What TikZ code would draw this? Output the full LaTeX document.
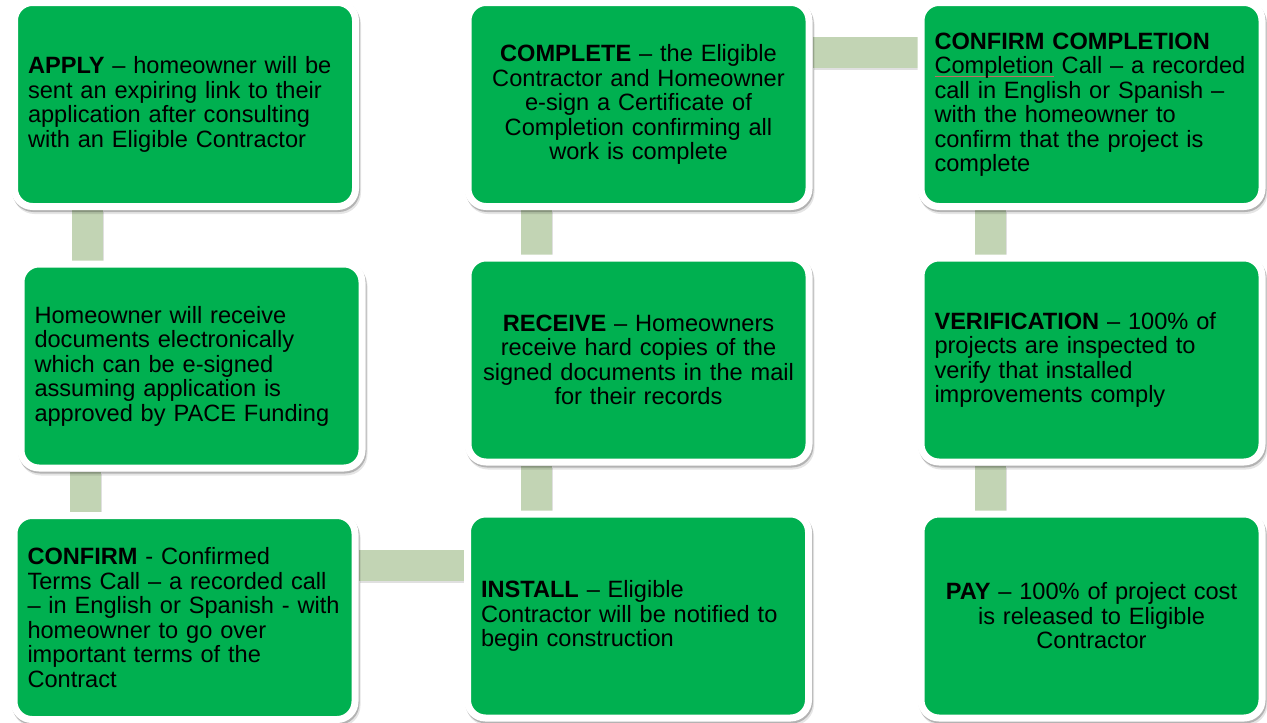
\documentclass[tikz,border=0pt]{standalone}
\usepackage{fontspec}
\setmainfont{Liberation Sans}
\usetikzlibrary{shadows,backgrounds}
\definecolor{boxgreen}{RGB}{0,176,80}
\definecolor{conncol}{RGB}{194,212,180}
\definecolor{ulred}{RGB}{190,110,100}
\newcommand\spellul[1]{\leavevmode{\setbox0\hbox{#1}\rlap{\color{ulred}\rule[-2.5pt]{\wd0}{0.45pt}}\box0}}
\newcommand\cl[1]{\mbox{#1}}
\tikzset{
  stepcard/.style={rounded corners=18pt, fill=boxgreen, draw=white, line width=7pt,
    minimum width=341pt, minimum height=204pt, inner xsep=13.5pt, inner ysep=0pt,
    text width=314pt, font=\fontsize{23.6}{24.5}\selectfont, text=black,
    execute at begin node={\hbadness=10000\hfuzz=40pt},
    drop shadow={shadow xshift=1pt, shadow yshift=-2pt, opacity=0.22, fill=none, draw=black, line width=7pt},
    drop shadow={shadow xshift=2pt, shadow yshift=-4pt, opacity=0.10, fill=none, draw=black, line width=7pt}},
  leftcard/.style={stepcard, align=left},
  midcard/.style={stepcard, align=center},
  conn/.style={draw=conncol, line width=31pt,
    preaction={draw=black, opacity=0.12, line width=31pt, transform canvas={xshift=1pt, yshift=-2pt}}},
}
\begin{document}
\begin{tikzpicture}[x=1pt, y=-1pt]
\useasboundingbox (0,0) rectangle (1267,723);

\node[leftcard] (apply) at (185,104.5) {\cl{\textbf{APPLY} -- homeowner will be}\\\cl{sent an expiring link to their}\\\cl{application after consulting}\\\cl{with an Eligible Contractor}};
\node[leftcard] (docs) at (191.5,366) {\cl{Homeowner will receive}\\\cl{documents electronically}\\\cl{which can be e-signed}\\\cl{assuming application is}\\\cl{approved by PACE Funding}};
\node[leftcard] (confirm) at (184.5,617.5) {\cl{\textbf{CONFIRM} - Confirmed}\\\cl{Terms Call -- a recorded call}\\\cl{-- in English or Spanish - with}\\\cl{homeowner to go over}\\\cl{important terms of the}\\\cl{Contract}};

\node[midcard] (complete) at (638.5,104.5) {\cl{\textbf{COMPLETE} -- the Eligible}\\\cl{Contractor and Homeowner}\\\cl{e-sign a Certificate of}\\\cl{Completion confirming all}\\\cl{work is complete}};
\node[midcard] (receive) at (638.5,360) {\cl{\textbf{RECEIVE} -- Homeowners}\\\cl{receive hard copies of the}\\\cl{signed documents in the mail}\\\cl{for their records}};
\node[leftcard] (install) at (638,616) {\cl{\textbf{INSTALL} -- Eligible}\\\cl{Contractor will be notified to}\\\cl{begin construction}};

\node[leftcard] (confcomp) at (1091.5,104.5) {\cl{\textbf{CONFIRM COMPLETION}}\\\cl{\spellul{Completion} Call -- a recorded}\\\cl{call in English or Spanish --}\\\cl{with the homeowner to}\\\cl{confirm that the project is}\\\cl{complete}};
\node[leftcard] (verify) at (1091.5,360) {\cl{\textbf{VERIFICATION} -- 100\% of}\\\cl{projects are inspected to}\\\cl{verify that installed}\\\cl{improvements comply}};
\node[midcard] (pay) at (1091.5,616) {\cl{\textbf{PAY} -- 100\% of project cost}\\\cl{is released to Eligible}\\\cl{Contractor}};

\coordinate (xa) at (87.5,0);
\coordinate (xb) at (85.5,0);
\coordinate (xc) at (536.5,0);
\coordinate (xd) at (990.5,0);
\coordinate (ya) at (0,565.5);
\coordinate (yb) at (0,52.5);

\begin{pgfonlayer}{background}
\draw[conn] (apply.south -| xa) -- (docs.north -| xa);
\draw[conn] (docs.south -| xb) -- (confirm.north -| xb);
\draw[conn] (confirm.east |- ya) -- (install.west |- ya);
\draw[conn] (install.north -| xc) -- (receive.south -| xc);
\draw[conn] (receive.north -| xc) -- (complete.south -| xc);
\draw[conn] (complete.east |- yb) -- (confcomp.west |- yb);
\draw[conn] (confcomp.south -| xd) -- (verify.north -| xd);
\draw[conn] (verify.south -| xd) -- (pay.north -| xd);
\end{pgfonlayer}
\end{tikzpicture}
\end{document}
